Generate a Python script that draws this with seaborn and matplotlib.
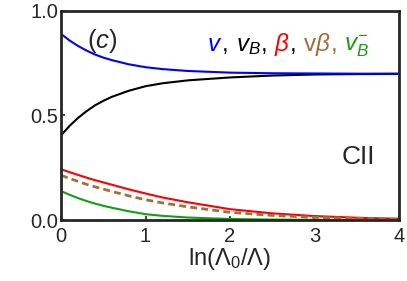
import numpy as np
import pandas as pd
import seaborn as sns
from matplotlib import pyplot as plt

# values
x = [0, 0.1, 0.2, 0.3, 0.4, 0.5, 0.6, 0.8, 1.0, 1.2, 1.5, 2.0, 2.5, 3.0, 3.5, 4.0]
v = [0.890, 0.859, 0.833, 0.811, 0.792, 0.777, 0.765, 0.745, 0.731, 0.722, 0.713,
     0.705, 0.702, 0.701, 0.700, 0.700]
v_B = [0.405, 0.450, 0.488, 0.520, 0.548, 0.570, 0.589, 0.618, 0.640, 0.654, 0.668,
       0.682, 0.691, 0.696, 0.698, 0.699]
beta = [0.243, 0.229, 0.216, 0.203, 0.191, 0.180, 0.169, 0.147, 0.127, 0.108, 0.085,
        0.052, 0.032, 0.019, 0.011, 0.006]
v_beta = [0.214, 0.199, 0.185, 0.171, 0.159, 0.148, 0.137, 0.116, 0.097, 0.082, 0.063,
          0.037, 0.022, 0.013, 0.007, 0.004]
v_B_minus = [0.138, 0.121, 0.105, 0.091, 0.079, 0.068, 0.059, 0.042, 0.028, 0.020, 0.012,
             0.005, 0.002, 0.001, 0.000, 0.000]

df = pd.DataFrame({'x': x, 'v': v, 'v_B': v_B, 'beta': beta,
                   'v_beta': v_beta, 'v_B_minus': v_B_minus})

sns.set_style('ticks')
plt.rcParams['font.family'] = ['Liberation Sans', 'DejaVu Sans']
plt.rcParams['mathtext.fontset'] = 'custom'
plt.rcParams['mathtext.rm'] = 'Liberation Sans'
plt.rcParams['mathtext.it'] = 'Liberation Sans:italic'

BLUE = '#0000ff'
RED = '#ff0000'
BROWN = '#a0703c'
GREEN = '#12a012'

fig = plt.figure(figsize=(4.07, 2.81), dpi=100)
ax = fig.add_axes([0.150, 0.217, 0.830, 0.744])

sns.lineplot(data=df, x='x', y='v_B_minus', color=GREEN, lw=1.5, ax=ax)
sns.lineplot(data=df, x='x', y='beta', color=RED, lw=1.5, ax=ax)
sns.lineplot(data=df, x='x', y='v_beta', color=BROWN, lw=2, ax=ax)
ax.lines[-1].set_dashes([2.5, 1.5])
sns.lineplot(data=df, x='x', y='v_B', color='black', lw=1.5, ax=ax)
sns.lineplot(data=df, x='x', y='v', color=BLUE, lw=1.5, ax=ax)

ax.set_xlim(0, 4)
ax.set_ylim(0, 1)
ax.set_xticks([0, 1, 2, 3, 4])
ax.set_yticks([0, 0.5, 1.0])
ax.set_yticklabels(['0.0', '0.5', '1.0'])
ax.tick_params(direction='in', length=3, width=1.2, labelsize=14.5)
ax.tick_params(axis='x', pad=5)
ax.tick_params(axis='y', pad=2)
for s in ax.spines.values():
    s.set_linewidth(2)
    s.set_visible(True)
ax.set_xlabel(r'ln($\Lambda_0$/$\Lambda$)', fontsize=17, labelpad=0)
ax.set_ylabel('')

ax.text(0.077, 0.855, r'($c$)', transform=ax.transAxes, fontsize=18.5,
        va='center', ha='left')
ax.text(0.832, 0.30, 'CII', transform=ax.transAxes, fontsize=19,
        va='center', ha='left')

# coloured legend string built from pieces
pieces = [(r'$v$', BLUE), (', ', 'black'), (r'$v_B$', 'black'), (', ', 'black'),
          (r'$\beta$', RED), (', ', 'black'), (r'v$\beta$', BROWN), (', ', BROWN),
          (r'$v^{-}_{B}$', GREEN)]
fig.canvas.draw()
renderer = fig.canvas.get_renderer()
xpos = 0.432
for txt, col in pieces:
    t = ax.text(xpos, 0.81, txt, transform=ax.transAxes, fontsize=17.5,
                color=col, va='baseline', ha='left')
    bb = t.get_window_extent(renderer=renderer)
    xpos = ax.transAxes.inverted().transform((bb.x1, bb.y0))[0]

fig.savefig('out.png', dpi=100)
